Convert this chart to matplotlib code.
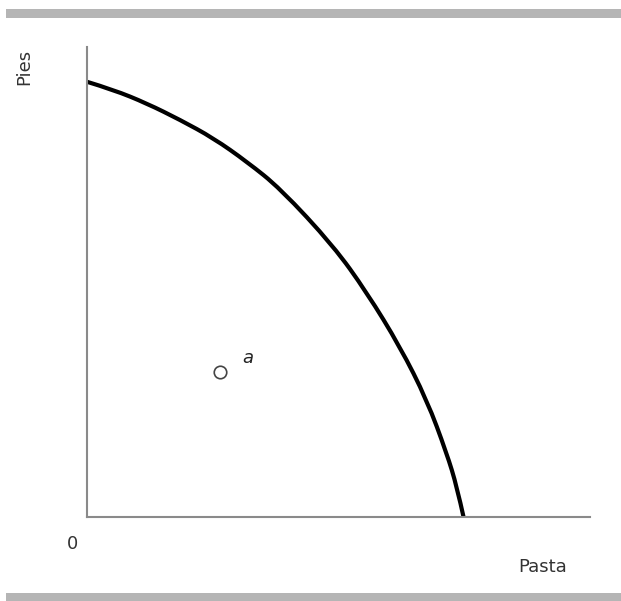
import matplotlib
matplotlib.use("Agg")
import matplotlib.pyplot as plt
from matplotlib.patches import Rectangle, PathPatch
from matplotlib.path import Path

# production possibilities frontier
pasta = [0, 0.56, 1.27, 1.98, 2.69, 3.40, 4.11, 5.24, 5.95, 6.66, 7.23, 7.65, 7.87, 8.01]
pies = [9.26, 9.09, 8.80, 8.45, 8.06, 7.56, 6.99, 5.77, 4.78, 3.62, 2.49, 1.36, 0.64, 0]

point_a = (2.83, 3.09)

fig = plt.figure(figsize=(6.21, 6.01), dpi=100)
ax = fig.add_axes([87 / 621, 84 / 601, 503 / 621, 470 / 601])

# smooth the frontier with quadratic bezier segments (read points as control points)
pts = list(zip(pasta, pies))
verts = [pts[0]]
codes = [Path.MOVETO]
for i in range(1, len(pts) - 1):
    nxt = pts[i + 1] if i == len(pts) - 2 else (
        (pts[i][0] + pts[i + 1][0]) / 2, (pts[i][1] + pts[i + 1][1]) / 2)
    verts += [pts[i], nxt]
    codes += [Path.CURVE3, Path.CURVE3]
ax.add_patch(PathPatch(Path(verts, codes), facecolor="none", edgecolor="black",
                       lw=3, capstyle="butt"))

ax.plot(*point_a, marker="o", ms=9, mfc="white", mec="#444444", mew=1.2)
ax.text(point_a[0] + 0.6, point_a[1] + 0.1, "a", fontsize=13, style="italic",
        ha="center", va="bottom", color="#222222")

ax.set_xlim(0, 10.7)
ax.set_ylim(0, 10.0)
ax.set_xticks([])
ax.set_yticks([])
for side in ["top", "right"]:
    ax.spines[side].set_visible(False)
for side in ["left", "bottom"]:
    ax.spines[side].set_color("#8a8a8a")
    ax.spines[side].set_linewidth(1.5)

fig.text(24 / 621, 1 - 67 / 601, "Pies", rotation=90, fontsize=13,
         ha="center", va="center", color="#333333")
fig.text(543 / 621, 1 - 567 / 601, "Pasta", fontsize=13,
         ha="center", va="center", color="#333333")
fig.text(73 / 621, 1 - 544 / 601, "0", fontsize=13,
         ha="center", va="center", color="#333333")

# gray rules at top and bottom
fig.patches.append(Rectangle((6 / 621, 1 - 18 / 601), 615 / 621, 9 / 601,
                             transform=fig.transFigure, color="#b5b5b5", lw=0))
fig.patches.append(Rectangle((6 / 621, 0), 615 / 621, 8 / 601,
                             transform=fig.transFigure, color="#b5b5b5", lw=0))

fig.savefig("out.png", dpi=100)
